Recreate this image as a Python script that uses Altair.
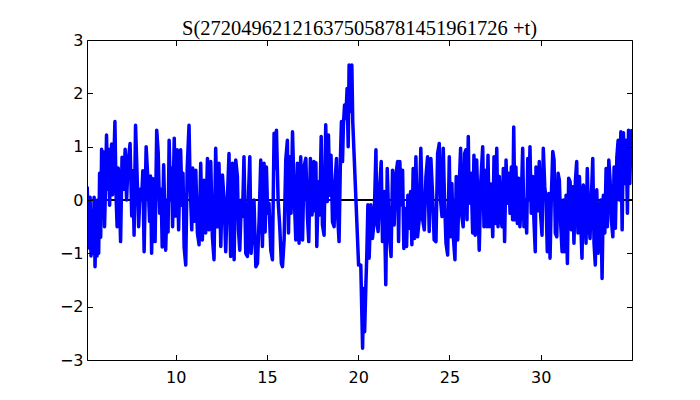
import altair as alt
import pandas as pd

# ---- data (t, S) vertices, in segments ----
t_a = [5.15,5.25,5.31,5.36,5.42,5.47,5.53,5.58,5.64,5.69,5.72,5.78,5.83,5.89,5.94,6.00,6.05,6.10,6.16,6.21,
       6.27,6.32,6.38,6.43,6.49,6.54,6.60,6.67,6.74,6.79,6.85,6.90,6.98,7.06,7.15,7.23,7.31,7.39,7.50,7.59,
       7.65,7.72,7.80,7.89,7.97,8.05,8.13,8.20,8.27,8.38,8.49,8.57,8.62,8.68,8.76,8.87,8.96,9.04,9.12,9.20,
       9.26,9.34,9.45,9.53,9.58,9.64,9.72,9.77,9.83,9.92,10.00,10.08,10.16,10.21,10.27,10.35,10.40,10.46,10.55,10.63,
       10.73,10.79,10.88,10.93,10.99,11.04]
s_a = [0.25,-0.9,0.05,-1.05,-0.2,-1.0,0.05,-1.25,-0.3,-1.05,0.0,-1.0,0.5,-0.7,0.95,-0.2,0.9,-0.5,0.3,1.22,
       0.2,0.95,-0.1,0.7,1.05,0.1,0.6,1.47,0.0,-0.5,0.6,0.3,-0.78,0.8,0.2,0.95,0.0,0.7,1.06,-0.3,
       0.55,-0.66,1.4,0.4,-0.5,0.2,0.0,0.55,-0.97,1.0,0.3,-0.4,0.45,-1.0,0.4,-0.78,1.31,0.9,-0.25,0.2,
       -0.88,0.66,-0.94,0.0,-0.6,1.12,0.0,0.6,-0.5,1.16,-0.3,0.94,-0.56,0.2,0.94,-0.1,0.5,-0.88,-1.22,0.6,
       1.4,0.3,-0.56,0.6,0.2,-0.4]

t_b = [11.10,11.19,11.28,11.37,11.46,11.55,11.64,11.74,11.82,11.92,12.01,12.10,12.19,12.29,12.37,12.47,12.56,12.65,12.74,12.83,
       12.92,13.01,13.11,13.20,13.29,13.38,13.44,13.51,13.60,13.66,13.74,13.84,13.93,13.99,14.06,14.13,14.20,14.29,14.39,14.48,
       14.57,14.66,14.75,14.84,14.90,14.97,15.04,15.11,15.21,15.30,15.39,15.44,15.52,15.61,15.70,15.79,15.85,15.94,16.03,16.12,
       16.18,16.25,16.32,16.40,16.49,16.58,16.67,16.76,16.85,16.95,17.03]
s_b = [0.56,-0.62,-0.84,0.69,-0.75,0.37,-0.62,0.78,-0.56,0.72,-0.69,-1.12,0.97,-0.5,0.69,-0.87,0.47,0.0,-0.97,0.0,
       0.87,-1.06,0.69,-1.12,0.75,0.44,-0.56,-0.94,0.0,-0.31,0.81,-1.0,-1.06,0.12,0.81,-1.0,-0.62,0.0,-1.25,-1.19,
       -0.37,0.75,-0.87,0.69,-0.6,0.62,-0.25,-0.06,-0.94,-1.12,1.25,0.6,1.31,0.0,-0.5,-1.19,-1.25,-0.75,0.75,1.12,
       -0.62,0.81,-0.25,1.28,0.12,-0.75,0.69,-0.81,0.81,-0.75,0.62]

t_c = [17.13,17.22,17.29,17.38,17.47,17.57,17.62,17.68,17.73,17.82,17.89,17.97,18.04,18.13,18.22,18.30,18.37,18.44,18.51,18.59,
       18.68,18.73,18.81,18.88,18.95,19.03,19.08,19.14,19.19,19.25,19.32,19.39,19.45,19.50,19.58,19.65,19.70,20.02,20.14,20.24,
       20.29,20.35,20.42,20.47,20.53,20.60,20.69,20.78,20.87,20.97,21.02,21.09,21.19,21.26,21.33,21.42,21.51,21.59,21.66,21.73,
       21.80,21.88,21.97,22.06,22.16,22.21,22.28,22.35,22.43,22.50,22.57,22.65,22.72,22.79,22.87,22.94,23.01,23.09]
s_c = [0.78,-0.34,-0.78,0.78,-0.28,0.72,-0.2,0.7,-0.87,0.34,-0.28,1.19,-0.47,-0.66,1.41,-0.03,1.22,0.09,0.84,-0.41,
       -0.5,0.34,0.78,-0.34,-0.78,0.84,1.47,0.72,1.41,1.78,1.53,2.09,1.0,2.53,1.66,2.53,1.47,-1.22,-1.22,-2.78,
       -1.66,-2.47,-1.59,-1.03,-0.09,-1.09,-0.09,-0.72,-0.41,0.94,-0.41,-0.59,0.34,0.72,-0.78,0.16,-1.59,0.59,-0.22,-0.78,
       -1.06,0.56,-0.47,0.47,0.72,-0.78,0.72,-0.09,0.56,-0.91,-0.16,-0.87,0.09,-0.53,0.16,-0.84,0.59,-0.72]

t_d = [23.16,23.25,23.34,23.43,23.53,23.62,23.71,23.80,23.89,23.98,24.08,24.16,24.26,24.35,24.44,24.51,24.59,24.66,24.73,24.81,
       24.90,24.99,25.06,25.13,25.21,25.30,25.37,25.45,25.53,25.61,25.68,25.75,25.83,25.90,25.96,26.03,26.08,26.18,26.27,26.34,
       26.41,26.49,26.56,26.63,26.72,26.82,26.89,26.96,27.04,27.11,27.18,27.27,27.37,27.44,27.51,27.59,27.66,27.73,27.80,27.88,
       27.95,28.02,28.10,28.17,28.24,28.32,28.39,28.46,28.52,28.59,28.64,28.72,28.79,28.86,28.93,29.01,29.08,29.15,29.23,29.29]
s_d = [0.81,-0.69,-0.37,0.97,-0.37,-0.56,0.44,0.81,-0.59,0.78,0.06,-0.75,-0.78,0.87,1.06,0.0,-0.31,0.97,0.0,-0.81,
       -1.03,0.81,-0.69,0.31,-0.69,-1.12,0.44,-0.75,0.25,0.97,-0.31,-0.5,0.87,0.94,-0.37,1.19,-0.06,0.5,-0.62,0.84,
       -0.66,0.75,-0.06,-0.94,0.37,1.0,-0.5,0.56,-0.5,0.84,-0.5,0.3,-0.69,0.81,-0.44,0.97,-0.5,0.44,-0.28,-0.5,
       0.59,-0.78,0.75,-0.06,0.5,-0.25,0.62,-0.37,1.37,-0.37,0.62,-0.44,0.41,-0.5,-0.06,0.97,-0.5,0.0,-0.62,0.78]

t_e = [29.36,29.41,29.48,29.56,29.63,29.70,29.74,29.83,29.92,30.00,30.07,30.14,30.22,30.29,30.36,30.44,30.51,30.58,30.66,30.73,
       30.80,30.88,30.95,31.02,31.10,31.17,31.24,31.31,31.39,31.46,31.53,31.61,31.68,31.75,31.82,31.90,31.97,32.04,32.12,32.19,
       32.26,32.33,32.41,32.48,32.55,32.63,32.70,32.77,32.85,32.92,32.99,33.07,33.14,33.21,33.29,33.36,33.43,33.51,33.58,33.65,
       33.73,33.80,33.87,33.95,34.02,34.09,34.17,34.24,34.31,34.39,34.46,34.53,34.61,34.68,34.75,34.81,34.88,34.95,35.0]
s_e = [0.0,1.0,-0.25,0.44,-0.41,-0.97,0.62,-0.2,0.72,-0.31,-0.66,0.97,0.25,0.0,-0.97,0.12,-1.09,0.06,0.91,0.75,
       -0.62,-0.69,0.5,0.37,-0.5,-0.97,0.0,-0.97,0.09,-1.19,0.41,0.34,-0.56,0.25,-0.81,0.37,0.72,-0.62,0.44,-0.44,
       -1.09,0.28,0.19,-0.81,0.59,-0.37,-0.72,0.0,0.78,-0.81,-1.22,0.19,-1.0,-0.31,0.0,-1.47,0.09,-0.62,0.59,-0.5,
       0.75,0.37,-0.37,-0.69,0.62,-0.53,0.81,1.12,0.0,1.28,-0.56,1.26,0.31,1.12,-0.25,1.31,0.31,1.3,1.0]

x_ticks = [10, 15, 20, 25, 30]
y_ticks = [-3, -2, -1, 0, 1, 2, 3]
x_domain = [5.14, 35.0]
y_domain = [-3, 3]
title_text = "S(272049621216375058781451961726 +t)"

df = pd.DataFrame({"t": t_a + t_b + t_c + t_d + t_e,
                   "s": s_a + s_b + s_c + s_d + s_e})

W, H = 545, 320
xs = alt.Scale(domain=x_domain, nice=False, zero=False)
ys = alt.Scale(domain=y_domain, nice=False, zero=False)

tick_ax = dict(labels=False, grid=False, ticks=True, tickSize=5.5, tickColor="black",
               tickWidth=1, domain=True, domainColor="black", domainWidth=1, title=None, zindex=1)
lab_font = dict(labelFont="DejaVu Sans", labelFontSize=16, labelColor="black")

# frame bottom + left, inward ticks
frame1 = alt.Chart(df).mark_line(opacity=0).encode(
    x=alt.X("t:Q", scale=xs, axis=alt.Axis(orient="top", offset=-H, values=x_ticks, **tick_ax)),
    y=alt.Y("s:Q", scale=ys, axis=alt.Axis(orient="right", offset=-W, values=y_ticks, **tick_ax)),
)
# frame top + right, inward ticks
frame2 = alt.Chart(df).mark_line(opacity=0).encode(
    x=alt.X("t:Q", scale=xs, axis=alt.Axis(orient="bottom", offset=-H, values=x_ticks, **tick_ax)),
    y=alt.Y("s:Q", scale=ys, axis=alt.Axis(orient="left", offset=-W, values=y_ticks, **tick_ax)),
)
zero = alt.Chart(df).mark_rule(color="black", strokeWidth=1).encode(
    y=alt.Y(datum=0, scale=ys, axis=None)
)
line = alt.Chart(df).mark_line(color="#0000ff", strokeWidth=3.5, strokeJoin="round", clip=True).encode(
    x=alt.X("t:Q", scale=xs, axis=alt.Axis(orient="bottom", values=x_ticks, grid=False, ticks=False,
                                          tickSize=0, domain=False, title=None, labelPadding=9,
                                          labelFlush=False, format="d", **lab_font)),
    y=alt.Y("s:Q", scale=ys, axis=alt.Axis(orient="left", values=y_ticks, grid=False, ticks=False,
                                          tickSize=0, domain=False, title=None, labelPadding=4,
                                          labelFlush=False,
                                          labelExpr="datum.value < 0 ? '\u2212' + abs(datum.value) : '' + datum.value",
                                          **lab_font)),
)

chart = alt.layer(frame1, frame2, zero, line).resolve_axis(
    x="independent", y="independent"
).properties(
    width=W, height=H,
    title=alt.TitleParams(text=title_text, font="Liberation Serif", fontSize=20.5, fontWeight="normal",
                          color="black", anchor="middle", offset=-7),
    autosize=alt.AutoSizeParams(type="none"),
    padding={"left": 79, "top": 32, "right": 60, "bottom": 32},
).configure_view(stroke=None).configure(background="white")

chart.save("out.html", embed_options={"renderer": "svg", "actions": False})
